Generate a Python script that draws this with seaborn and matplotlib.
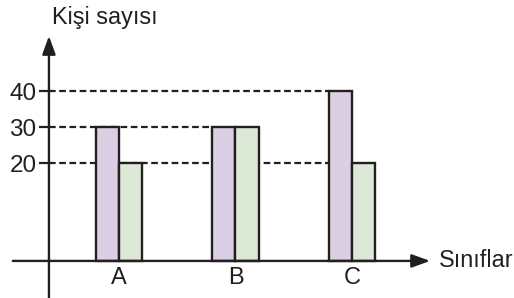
import numpy as np
import pandas as pd
import matplotlib
matplotlib.use("Agg")
import matplotlib.pyplot as plt
import seaborn as sns

# data
siniflar = ["A", "B", "C"]
grup_1 = [30, 30, 40]   # purple bars
grup_2 = [20, 30, 20]   # green bars
y_ticks = [20, 30, 40]

renkler = ["#dccde6", "#daecd3"]
koyu = "#231f20"

df = pd.DataFrame({
    "sinif": siniflar * 2,
    "kisi": grup_1 + grup_2,
    "grup": ["1"] * len(siniflar) + ["2"] * len(siniflar),
})

sns.set_style("white")
plt.rcParams["font.family"] = ["Liberation Sans", "DejaVu Sans"]


# schematic axis: 0..20 is stretched, above 20 linear
def fwd(v):
    return np.interp(v, [-1e4, 0, 20, 1e4], [-1e4, 0, 27.2, 1e4 + 7.2])


def inv(u):
    return np.interp(u, [-1e4, 0, 27.2, 1e4 + 7.2], [-1e4, 0, 20, 1e4])


fig = plt.figure(figsize=(5.14, 2.98), dpi=100)
ax = fig.add_axes([0, 0, 1, 1])

genislik = 0.4
sns.barplot(data=df, x="sinif", y="kisi", hue="grup", palette=renkler,
            width=genislik, gap=0, dodge=True, edgecolor=koyu, linewidth=1.7,
            legend=False, ax=ax, zorder=3)

ax.set_yscale("function", functions=(fwd, inv))
ax.set_xlim(-1.02, 3.39)
ax.set_ylim(-10.3, 65.3)

y_ekseni = -0.6

# dashed guide lines up to the group holding the last bar of that value
for v in y_ticks:
    son = max(i for i in range(len(siniflar)) if grup_1[i] == v or grup_2[i] == v)
    ax.hlines(v, y_ekseni, son - genislik / 2, colors=koyu, linewidth=1.6,
              linestyles=(0, (3.0, 1.6)), zorder=1)

# axes with arrows
ok = dict(arrowstyle="-|>,head_length=1.1,head_width=0.4", lw=1.7,
          color=koyu, shrinkA=0, shrinkB=0)
ax.annotate("", xy=(2.67, 0), xytext=(-0.91, 0), arrowprops=ok, zorder=4)
ax.annotate("", xy=(y_ekseni, 55.3), xytext=(y_ekseni, -10.2), arrowprops=ok, zorder=4)

for s in ax.spines.values():
    s.set_visible(False)
ax.spines["left"].set_position(("data", y_ekseni))
ax.spines["bottom"].set_position(("data", 0))

ax.set_yticks(y_ticks)
ax.set_yticklabels([str(v) for v in y_ticks])
ax.tick_params(axis="y", direction="out", length=7.5, width=1.6, color=koyu,
               labelsize=17.5, labelcolor=koyu, pad=1.5, left=True)
ax.set_xticks(range(len(siniflar)))
ax.set_xticklabels(siniflar)
ax.tick_params(axis="x", length=0, labelsize=17, labelcolor=koyu, pad=4.5)
ax.set_xlabel("")
ax.set_ylabel("")

ax.text(-0.575, 60.4, "Kişi sayısı", fontsize=16.8, color=koyu,
        ha="left", va="center")
ax.text(2.745, 0, "Sınıflar", fontsize=16.8, color=koyu, ha="left", va="center")

fig.savefig("out.png", dpi=100)
